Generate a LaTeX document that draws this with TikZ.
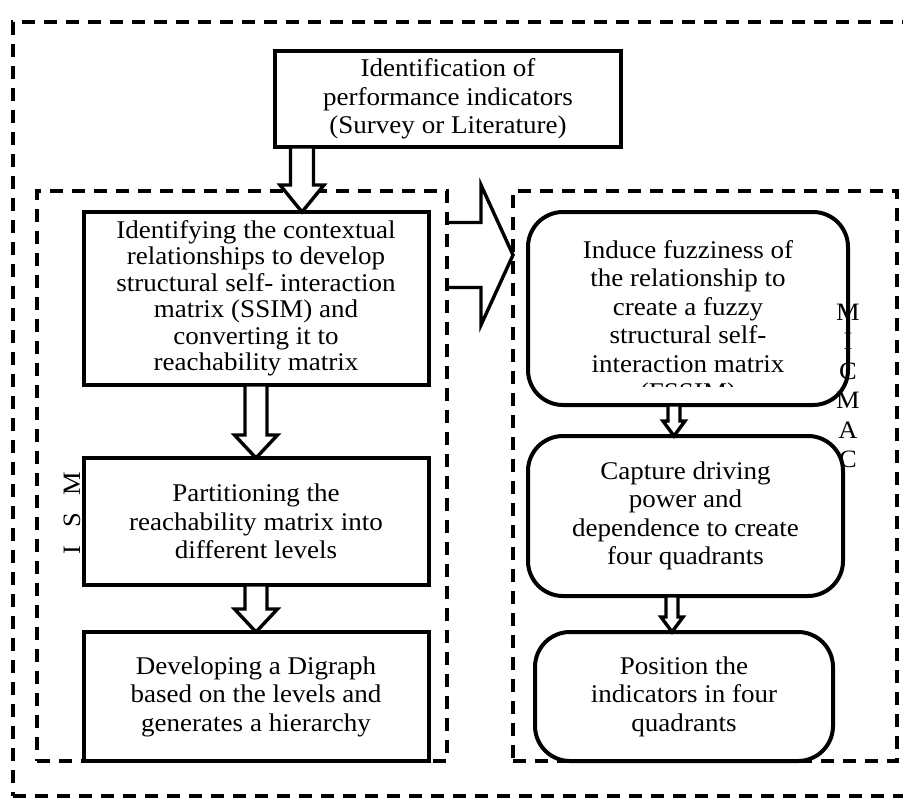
\documentclass[tikz,border=0pt]{standalone}
\usepackage{fontspec}
\setmainfont{Liberation Serif}[FakeStretch=1.06]
\usetikzlibrary{positioning,calc}

% hollow block arrows: from, to, shaft half width, head half width, head length
\newcommand{\hollowdown}[5]{%
  \draw[hollow_arrow] let \p1=#1, \p2=#2 in
    (\x1-#3,\y1) -- (\x1-#3,\y2+#5) -- (\x1-#4,\y2+#5) -- (\x1,\y2)
    -- (\x1+#4,\y2+#5) -- (\x1+#3,\y2+#5) -- (\x1+#3,\y1) -- cycle;}
\newcommand{\hollowright}[5]{%
  \draw[hollow_arrow, fill=none] let \p1=#1, \p2=#2 in
    (\x1,\y1+#3) -- (\x2-#5,\y1+#3) -- (\x2-#5,\y1+#4) -- (\x2,\y1)
    -- (\x2-#5,\y1-#4) -- (\x2-#5,\y1-#3) -- (\x1,\y1-#3);}

\begin{document}
\begin{tikzpicture}[x=1pt,y=-1pt,
ism_box/.style={rectangle, draw=black, line width=4pt, fill=white, minimum width=345pt, inner sep=0pt, outer sep=0pt, align=center, font=\fontsize{25.5}{28.5}\selectfont},
micmac_box/.style={ism_box, rounded corners=35pt},
frame/.style={draw=black, line width=3.4pt, dash pattern=on 13pt off 9pt, inner sep=0pt, outer sep=0pt},
hollow_arrow/.style={draw=black, line width=3.4pt, fill=white},
side_label/.style={align=center, inner sep=0pt, font=\fontsize{25}{29.5}\selectfont}
]
\useasboundingbox (0,0) rectangle (903,800);

% frames
\node[frame, minimum width=900pt, minimum height=774pt, anchor=north west] (outer_frame) at (13,22) {};
\node[frame, minimum width=410pt, minimum height=570pt, anchor=north west] (ism_frame) at (37,191) {};
\node[frame, minimum width=384pt, minimum height=570pt, anchor=north west] (micmac_frame) at (513,191) {};

\node[ism_box, minimum width=346pt, minimum height=96pt] (ident) at (448,99) {Identification of\\performance indicators\\(Survey or Literature)};

% ISM steps
\node[ism_box, minimum height=173pt, anchor=north, font=\fontsize{25.5}{26.5}\selectfont] (box_ctx) at (256,212) {Identifying the contextual\\relationships to develop\\structural self- interaction\\matrix (SSIM) and\\converting it to\\reachability matrix};
\node[ism_box, minimum height=127pt, below=73pt of box_ctx] (box_part) {Partitioning the\\reachability matrix into\\different levels};
\node[ism_box, minimum height=129pt, below=47pt of box_part] (box_digraph) {Developing a Digraph\\based on the levels and\\generates a hierarchy};

% MICMAC steps
\node[micmac_box, minimum width=320pt, minimum height=193pt, anchor=north west] (fuzzy) at (528,212) {};
\begin{scope}
\clip ([xshift=4pt,yshift=-4pt]fuzzy.north west) rectangle ([xshift=-4pt,yshift=19pt]fuzzy.south east);
\node[side_label, font=\fontsize{25.5}{28.5}\selectfont] (fuzzy_text) at (688,323) {Induce fuzziness of\\the relationship to\\create a fuzzy\\structural self-\\interaction matrix\\(FSSIM)};
\end{scope}
\node[micmac_box, minimum width=315pt, minimum height=160pt, below=31pt of fuzzy, xshift=-2.5pt] (capture) {Capture driving\\power and\\dependence to create\\four quadrants};
\node[micmac_box, minimum width=298pt, minimum height=129pt, below=36pt of capture, xshift=-1.5pt] (quadrants) {Position the\\indicators in four\\quadrants};

% arrows
\hollowdown{([xshift=-146pt]ident.south)}{(box_ctx.north)}{11.5pt}{22pt}{27pt}
\hollowdown{(box_ctx.south)}{(box_part.north)}{11pt}{21.5pt}{23pt}
\hollowdown{(box_part.south)}{(box_digraph.north)}{11pt}{21.5pt}{23pt}
\hollowdown{([xshift=-14pt]fuzzy.south)}{(capture.north)}{6pt}{11pt}{15pt}
\hollowdown{([xshift=-13.5pt]capture.south)}{(quadrants.north)}{6pt}{11pt}{15pt}
\hollowright{([yshift=-64pt]ism_frame.north east)}{(micmac_frame.west)}{32.5pt}{70pt}{32pt}

% side labels
\node[side_label, rotate=90] (ism_label) at (72,513) {I\hspace{18pt}S\hspace{18pt}M};
\node[side_label] (micmac_label) at (848,386) {M\\I\\C\\M\\A\\C};
\end{tikzpicture}
\end{document}
